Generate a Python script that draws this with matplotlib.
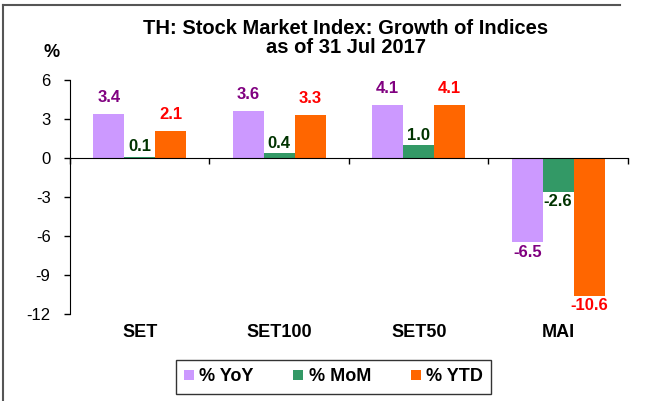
import numpy as np
import matplotlib
matplotlib.use('Agg')
from matplotlib import pylab as plt
from matplotlib.lines import Line2D
from matplotlib.patches import Patch

plt.rcParams['font.family'] = ['Liberation Sans', 'DejaVu Sans']

categories = ['SET', 'SET100', 'SET50', 'MAI']
yoy = [3.4, 3.6, 4.1, -6.5]
mom = [0.1, 0.4, 1.0, -2.6]
ytd = [2.1, 3.3, 4.1, -10.6]
series_names = ['% YoY', '% MoM', '% YTD']
bar_colors = ['#CC99FF', '#339966', '#FF6600']
label_colors = ['#800080', '#003300', '#FF0000']
yticks = [-12, -9, -6, -3, 0, 3, 6]


def main():
    fig = plt.figure(figsize=(6.46, 4.01), dpi=100)
    ax = fig.add_axes([0.1084, 0.217, 0.8636, 0.5835])

    x = np.arange(len(categories))
    w = 0.222
    # label gap above positive bars (points); MoM labels sit closer
    pos_gap = [12, 7, 12]
    for i, (vals, col, lcol) in enumerate(zip([yoy, mom, ytd], bar_colors, label_colors)):
        xs = x + (i - 1) * w
        ax.bar(xs, vals, width=w, color=col, zorder=2)
        for xi, v in zip(xs, vals):
            dy = pos_gap[i] if v >= 0 else -7
            ax.annotate(f'{v:.1f}', (xi, v), xytext=(0, dy), textcoords='offset points',
                        ha='center', va='center', color=lcol,
                        fontsize=12, fontweight='bold')

    ax.set_xlim(-0.5, 3.5)
    ax.set_ylim(-12, 6)
    ax.set_yticks(yticks)
    ax.set_yticklabels([str(t) for t in yticks], fontsize=12)
    ax.set_xticks(np.arange(-0.5, 4.0, 1.0))
    ax.set_xticklabels([])
    ax.tick_params(axis='both', direction='out', length=4, width=1, colors='black')
    ax.tick_params(axis='y', pad=10)
    ax.spines['top'].set_visible(False)
    ax.spines['right'].set_visible(False)
    ax.spines['bottom'].set_position(('data', 0))
    ax.spines['bottom'].set_zorder(3)

    for i, c in enumerate(categories):
        ax.text(i, -0.08, c, transform=ax.get_xaxis_transform(), ha='center',
                va='center', fontsize=13, fontweight='bold')

    fig.text(0.535, 0.905, 'TH: Stock Market Index: Growth of Indices\nas of 31 Jul 2017',
             ha='center', va='center', fontsize=14.5, fontweight='bold', linespacing=1.05)
    fig.text(0.080, 0.868, '%', ha='center', va='center', fontsize=13, fontweight='bold')

    handles = [Patch(facecolor=c, edgecolor='none') for c in bar_colors]
    fig.legend(handles, series_names, loc='center', bbox_to_anchor=(0.516, 0.06),
               ncol=3, frameon=True, fancybox=False, edgecolor='black',
               handlelength=0.55, handleheight=0.55, handletextpad=0.3, columnspacing=2.2,
               prop={'weight': 'bold', 'size': 13}, borderpad=0.45, borderaxespad=0)
    fig.legends[0].get_frame().set_linewidth(1.0)

    # figure border (left and top)
    fig.add_artist(Line2D([3 / 646, 3 / 646], [0, 1 - 5 / 401], color='#555555', lw=1.5))
    fig.add_artist(Line2D([3 / 646, 620 / 646], [1 - 5 / 401, 1 - 5 / 401], color='#555555', lw=1.5))

    fig.savefig('out.png', dpi=100)


if __name__ == '__main__':
    main()
